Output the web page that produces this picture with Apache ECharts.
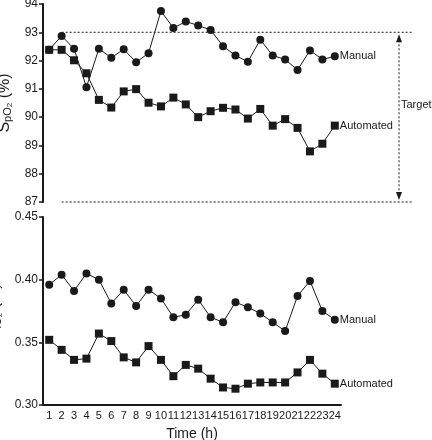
<!DOCTYPE html>
<html>
<head>
<meta charset="utf-8">
<script src="https://cdn.jsdelivr.net/npm/echarts@6/dist/echarts.min.js"></script>
<style>html,body{margin:0;padding:0;background:#fff}#c{width:432px;height:440px}</style>
</head>
<body>
<div id="c"></div>
<script>
const hours = ['1','2','3','4','5','6','7','8','9','10','11','12','13','14','15','16','17','18','19','20','21','22','23','24'];
const spo2Manual = [92.38,92.87,92.42,91.06,92.42,92.10,92.40,91.94,92.26,93.75,93.15,93.38,93.24,93.08,92.51,92.18,91.96,92.74,92.18,92.04,91.67,92.36,92.04,92.15];
const spo2Automated = [92.38,92.38,92.01,91.55,90.61,90.34,90.91,90.99,90.51,90.38,90.69,90.45,90.00,90.21,90.33,90.27,89.95,90.29,89.70,89.93,89.62,88.79,89.06,89.70];
const fio2Manual = [0.396,0.404,0.391,0.405,0.400,0.381,0.392,0.379,0.392,0.385,0.370,0.372,0.384,0.370,0.366,0.382,0.378,0.373,0.366,0.359,0.387,0.399,0.375,0.368];
const fio2Automated = [0.352,0.344,0.336,0.337,0.357,0.351,0.338,0.334,0.347,0.336,0.323,0.332,0.329,0.321,0.314,0.313,0.317,0.318,0.318,0.318,0.326,0.336,0.325,0.317];
const targetBounds = [93, 87];
const spo2Ticks = [87, 94, 1];
const fio2Ticks = [0.30, 0.45, 0.05];

const FONT = 'Liberation Sans, Arial, sans-serif';
const INK = '#1a1a1a';
const chart = echarts.init(document.getElementById('c'), null, {renderer: 'canvas'});

function richName(){
  return {
    m: {fontSize: 16, fontFamily: FONT, color: INK, lineHeight: 18},
    s: {fontSize: 11, fontFamily: FONT, color: INK, verticalAlign: 'bottom', lineHeight: 18},
    ss: {fontSize: 8, fontFamily: FONT, color: INK, verticalAlign: 'bottom', lineHeight: 18}
  };
}
function yAxisCommon(){
  return {
    type: 'value',
    axisLine: {show: true, lineStyle: {color: INK, width: 2}},
    axisTick: {show: true, length: 4, lineStyle: {color: INK, width: 1.5}},
    splitLine: {show: false},
    axisLabel: {color: INK, fontSize: 12, fontFamily: FONT, margin: 5},
    nameLocation: 'middle',
    nameRotate: 90,
    nameGap: 23
  };
}
function seriesLine(data, sym, name, xi){
  return {
    type: 'line', name: name, data: data, xAxisIndex: xi, yAxisIndex: xi,
    symbol: sym, symbolSize: 8, showAllSymbol: true,
    lineStyle: {color: INK, width: 1},
    itemStyle: {color: INK},
    emphasis: {disabled: true},
    animation: false,
    endLabel: {show: true, formatter: name, color: INK, fontSize: 11, fontFamily: FONT, distance: 5}
  };
}

const option = {
  animation: false,
  textStyle: {fontFamily: FONT},
  grid: [
    {left: 43, top: 4, width: 298, height: 198, containLabel: false, outerBoundsMode: 'none'},
    {left: 43, top: 217, width: 298, height: 188, containLabel: false, outerBoundsMode: 'none'}
  ],
  xAxis: [
    {type: 'category', gridIndex: 0, data: hours, show: false, boundaryGap: true},
    {type: 'category', gridIndex: 1, data: hours, boundaryGap: true,
     axisLine: {lineStyle: {color: INK, width: 2}},
     axisTick: {alignWithLabel: true, length: 3, lineStyle: {color: INK, width: 1}},
     axisLabel: {interval: 0, color: INK, fontSize: 11, fontFamily: FONT, margin: 5, hideOverlap: false},
     name: 'Time (h)', nameLocation: 'middle', nameGap: 22,
     nameTextStyle: {color: INK, fontSize: 14, fontFamily: FONT}}
  ],
  yAxis: [
    Object.assign(yAxisCommon(), {gridIndex: 0, min: spo2Ticks[0], max: spo2Ticks[1], interval: spo2Ticks[2],
      name: '{m|S}{s|pO}{ss|2}{m| (%)}',
      nameTextStyle: {color: INK, rich: richName()}}),
    Object.assign(yAxisCommon(), {gridIndex: 1, min: fio2Ticks[0], max: fio2Ticks[1], interval: fio2Ticks[2],
      axisLabel: {color: INK, fontSize: 12, fontFamily: FONT, margin: 5, formatter: v => v.toFixed(2)},
      name: '{m|F}{s|IO}{ss|2}{m| (%)}',
      nameTextStyle: {color: INK, rich: richName()}})
  ],
  series: [
    seriesLine(spo2Manual, 'circle', 'Manual', 0),
    seriesLine(spo2Automated, 'rect', 'Automated', 0),
    seriesLine(fio2Manual, 'circle', 'Manual', 1),
    seriesLine(fio2Automated, 'rect', 'Automated', 1)
  ]
};
chart.setOption(option);

// Target annotation built from axis scale
const yHi = chart.convertToPixel({yAxisIndex: 0}, targetBounds[0]);
const yLo = chart.convertToPixel({yAxisIndex: 0}, targetBounds[1]);
const xStart = chart.convertToPixel({xAxisIndex: 0}, hours[1]);
const xEnd = 412, xArrow = 399;
const dash = {stroke: INK, lineWidth: 1, lineDash: [2, 2]};
chart.setOption({graphic: [
  {type: 'line', shape: {x1: xStart, y1: yHi, x2: xEnd, y2: yHi}, style: dash, silent: true},
  {type: 'line', shape: {x1: xStart, y1: yLo, x2: xEnd, y2: yLo}, style: dash, silent: true},
  {type: 'line', shape: {x1: xArrow, y1: yHi + 8, x2: xArrow, y2: yLo - 8}, style: dash, silent: true},
  {type: 'polygon', shape: {points: [[xArrow, yHi + 2], [xArrow - 3, yHi + 10], [xArrow + 3, yHi + 10]]}, style: {fill: INK}, silent: true},
  {type: 'polygon', shape: {points: [[xArrow, yLo - 2], [xArrow - 3, yLo - 10], [xArrow + 3, yLo - 10]]}, style: {fill: INK}, silent: true},
  {type: 'text', x: xArrow + 2, y: (yHi + yLo) / 2 - 12, style: {text: 'Target', fill: INK, fontSize: 11, fontFamily: FONT, verticalAlign: 'middle'}, silent: true}
]});
</script>
</body>
</html>
